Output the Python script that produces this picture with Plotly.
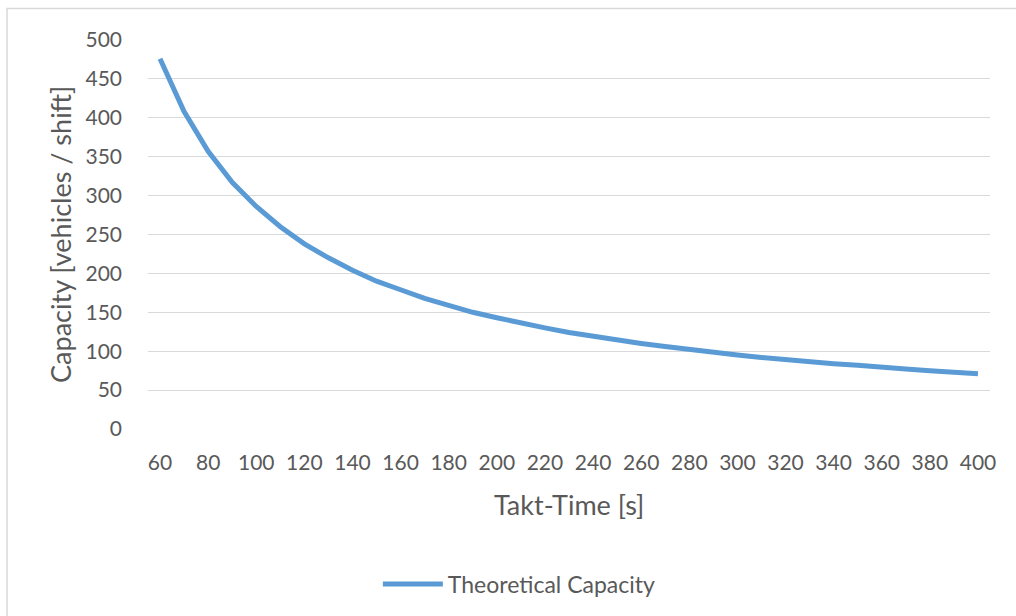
import plotly.graph_objects as go

takt_time = [60, 70, 80, 90, 100, 110, 120, 130, 140, 150, 160, 170, 180, 190, 200,
             210, 220, 230, 240, 250, 260, 270, 280, 290, 300, 310, 320, 330, 340, 350,
             360, 370, 380, 390, 400]
capacity = [476, 408, 357, 317, 286, 260, 238, 220, 204, 190, 179, 168, 159, 150, 143,
            136, 130, 124, 119, 114, 110, 106, 102, 98, 95, 92, 89, 87, 84, 82,
            79, 77, 75, 73, 71]
x_ticks = list(range(60, 401, 20))
y_ticks = list(range(0, 501, 50))

FONT = "Lato"
GREY = "#595959"

fig = go.Figure()
fig.add_trace(go.Scatter(
    x=takt_time, y=capacity, mode="lines", name="Theoretical Capacity",
    line=dict(color="#5B9BD5", width=5),
))

fig.update_layout(
    width=1016, height=616,
    margin=dict(l=148, r=26, t=40, b=186),
    paper_bgcolor="white", plot_bgcolor="white",
    font=dict(family=FONT, color=GREY, size=21),
    xaxis=dict(
        range=[55, 405], tickmode="array", tickvals=x_ticks,
        ticktext=[str(v) for v in x_ticks],
        showgrid=False, zeroline=False, showline=False, ticks="",
        ticklabelstandoff=19, tickfont=dict(size=21, color=GREY, family=FONT),
    ),
    yaxis=dict(
        range=[0, 500], tickmode="array", tickvals=y_ticks,
        showgrid=True, gridcolor="#D9D9D9", gridwidth=1.3,
        zeroline=False, showline=False, ticks="",
        ticklabelstandoff=25, tickfont=dict(size=21, color=GREY, family=FONT),
    ),
    showlegend=True,
    legend=dict(
        orientation="h", x=0.273, xanchor="left", y=-0.395, yanchor="middle",
        font=dict(size=23, color=GREY, family=FONT), itemwidth=60,
        bgcolor="rgba(0,0,0,0)",
    ),
    annotations=[
        dict(text="Takt-Time [s]", xref="paper", yref="paper", x=0.5, y=-0.193,
             xanchor="center", yanchor="middle", showarrow=False,
             font=dict(size=27, color=GREY, family=FONT)),
        dict(text="Capacity [vehicles / shift]", xref="paper", yref="paper",
             x=-0.104, y=0.5, xanchor="center", yanchor="middle", textangle=-90,
             showarrow=False, font=dict(size=27, color=GREY, family=FONT)),
    ],
    shapes=[
        dict(type="rect", xref="paper", yref="paper",
             x0=(7 - 148) / 842, x1=1.1, y0=-0.6, y1=(430 - 8.5) / 390,
             line=dict(color="#D9D9D9", width=1.5), fillcolor="rgba(0,0,0,0)",
             layer="below"),
    ],
)

fig.write_html("out.html")
